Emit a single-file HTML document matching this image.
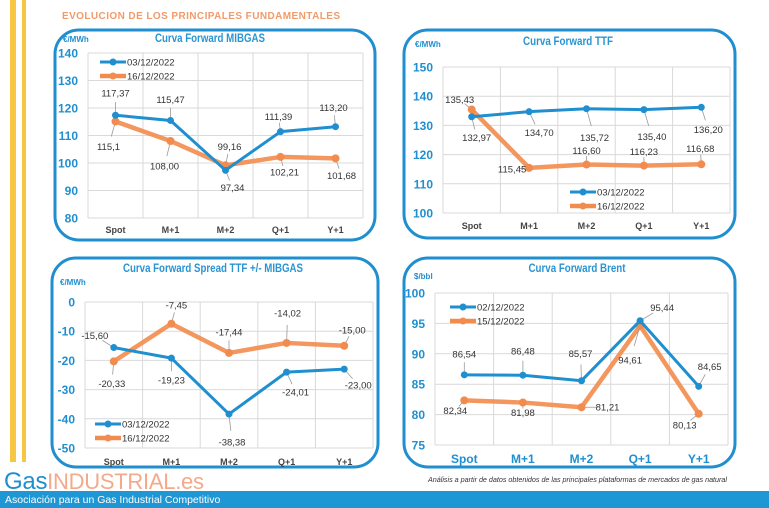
<!DOCTYPE html>
<html><head><meta charset="utf-8">
<style>
html,body{margin:0;padding:0;background:#fff;}
svg{display:block;font-family:"Liberation Sans",sans-serif;}
</style></head>
<body>
<svg id="root" width="769" height="508" viewBox="0 0 769 508" xmlns="http://www.w3.org/2000/svg">
  <rect x="10" y="0" width="6" height="462" fill="#f8c645"/>
  <rect x="22" y="0" width="4" height="462" fill="#f8c645"/>
  <text x="62" y="19" font-size="10" font-weight="bold" fill="#f29a6a" textLength="278">EVOLUCION DE LOS PRINCIPALES FUNDAMENTALES</text>
  <g id="charts"></g>
  <text x="4" y="489" font-size="24" fill="#1d8fd0" textLength="200"><tspan>Gas</tspan><tspan fill="#f4a98a" font-size="22">INDUSTRIAL.es</tspan></text>
  <text x="428" y="482" font-size="7.2" font-style="italic" fill="#333" textLength="299">Análisis a partir de datos obtenidos de las principales plataformas de mercados de gas natural</text>
  <rect x="0" y="491" width="769" height="17" fill="#1f97d4"/>
  <text x="5" y="503" font-size="10.5" fill="#fff">Asociación para un Gas Industrial Competitivo</text>
</svg>
<script>
const categories = ["Spot","M+1","M+2","Q+1","Y+1"];
const mibgasBlue = [117.37,115.47,97.34,111.39,113.20];
const mibgasOrange = [115.1,108.00,99.16,102.21,101.68];
const mibgasBlueLbl = ["117,37","115,47","97,34","111,39","113,20"];
const mibgasOrangeLbl = ["115,1","108,00","99,16","102,21","101,68"];
const mibgasTicks = [140,130,120,110,100,90,80];
const ttfBlue = [132.97,134.70,135.72,135.40,136.20];
const ttfOrange = [135.43,115.45,116.60,116.23,116.68];
const ttfBlueLbl = ["132,97","134,70","135,72","135,40","136,20"];
const ttfOrangeLbl = ["135,43","115,45","116,60","116,23","116,68"];
const ttfTicks = [150,140,130,120,110,100];
const spreadBlue = [-15.60,-19.23,-38.38,-24.01,-23.00];
const spreadOrange = [-20.33,-7.45,-17.44,-14.02,-15.00];
const spreadBlueLbl = ["-15,60","-19,23","-38,38","-24,01","-23,00"];
const spreadOrangeLbl = ["-20,33","-7,45","-17,44","-14,02","-15,00"];
const spreadTicks = [0,-10,-20,-30,-40,-50];
const brentBlue = [86.54,86.48,85.57,95.44,84.65];
const brentOrange = [82.34,81.98,81.21,94.61,80.13];
const brentBlueLbl = ["86,54","86,48","85,57","95,44","84,65"];
const brentOrangeLbl = ["82,34","81,98","81,21","94,61","80,13"];
const brentTicks = [100,95,90,85,80,75];

const NS="http://www.w3.org/2000/svg";
const BLUE="#1f8fd0", ORANGE="#f28c4e";
function mk(tag,attrs,parent){const e=document.createElementNS(NS,tag);for(const k in attrs)e.setAttribute(k,attrs[k]);parent.appendChild(e);return e;}

const charts=[
 {name:"mibgas",title:"Curva Forward MIBGAS",tw:110,unit:"€/MWh",box:[55,30,320,210],px:[88,363],py:[53,218],vmax:140,vmin:80,ticks:mibgasTicks,
  blue:mibgasBlue,orange:mibgasOrange,bl:mibgasBlueLbl,ol:mibgasOrangeLbl,
  bOff:[[0,-22],[0,-21],[7,17],[-2,-15],[-2,-19]],oOff:[[-7,25],[-6,25],[4,-19],[4,15],[6,17]],
  leg:["03/12/2022","16/12/2022"],legPos:[100,62],titleY:42,unitPos:[63,42],catY:229,catBlue:false,titleX:210},
 {name:"ttf",title:"Curva Forward TTF",tw:90,unit:"€/MWh",box:[404,30,331,208],px:[443,730],py:[67,213],vmax:150,vmin:100,ticks:ttfTicks,
  blue:ttfBlue,orange:ttfOrange,bl:ttfBlueLbl,ol:ttfOrangeLbl,
  bOff:[[5,21],[10,21],[8,29],[8,27],[7,22]],oOff:[[-12,-10],[-17,1],[0,-14],[0,-14],[-1,-16]],
  leg:["03/12/2022","16/12/2022"],legPos:[570,192],titleY:45,unitPos:[415,47],catY:225,catBlue:false,titleX:568},
 {name:"spread",title:"Curva Forward Spread TTF +/- MIBGAS",tw:180,unit:"€/MWh",box:[52,258,326,209],px:[85,373],py:[302,448],vmax:0,vmin:-50,ticks:spreadTicks,
  blue:spreadBlue,orange:spreadOrange,bl:spreadBlueLbl,ol:spreadOrangeLbl,
  bOff:[[-19,-12],[0,22],[3,28],[9,20],[14,16]],oOff:[[-2,22],[5,-19],[0,-21],[1,-30],[8,-16]],
  leg:["03/12/2022","16/12/2022"],legPos:[95,424],titleY:272,unitPos:[60,285],catY:461,catBlue:false,titleX:213},
 {name:"brent",title:"Curva Forward Brent",tw:97,unit:"$/bbl",box:[404,258,331,209],px:[435,728],py:[293,445],vmax:100,vmin:75,ticks:brentTicks,
  blue:brentBlue,orange:brentOrange,bl:brentBlueLbl,ol:brentOrangeLbl,
  bOff:[[0,-21],[0,-24],[-1,-27],[22,-13],[11,-20]],oOff:[[-9,10],[0,10],[26,0],[-10,34],[-14,11]],
  leg:["02/12/2022","15/12/2022"],legPos:[450,307],titleY:272,unitPos:[414,279],catY:459,catBlue:true,titleX:577}
];

const root=document.getElementById("charts");
charts.forEach(c=>{
  const g=mk("g",{},root);
  
  
  const fr=mk("rect",{x:c.box[0],y:c.box[1],width:c.box[2],height:c.box[3],rx:24,ry:24,fill:"#fff",stroke:"#1f8fd0","stroke-width":3},g);
  
  
  const t=mk("text",{x:c.titleX-c.tw/2,y:c.titleY,"font-size":12,"font-weight":"bold",fill:"#2a94d2",textLength:c.tw,lengthAdjust:"spacingAndGlyphs"},g);
  t.textContent=c.title;
  
  
  const u=mk("text",{x:c.unitPos[0],y:c.unitPos[1],"font-size":8,"font-weight":"bold",fill:"#1f8fd0"},g);
  u.textContent=c.unit;
  
  
  const yS=v=>c.py[0]+(c.vmax-v)/(c.vmax-c.vmin)*(c.py[1]-c.py[0]);
  const step=(c.px[1]-c.px[0])/categories.length;
  const xS=i=>c.px[0]+step*(i+0.5);
  c.ticks.forEach(tv=>{
    const y=yS(tv);
    const gl=mk("line",{x1:c.px[0],x2:c.px[1],y1:y,y2:y,stroke:"#d9d9d9","stroke-width":1},g);
    
    
    const tl=mk("text",{x:c.px[0]-10,y:y+4.5,"text-anchor":"end","font-size":12,"font-weight":"bold",fill:"#1f8fd0"},g);
    tl.textContent=tv;
    
    
  });
  for(let i=0;i<=categories.length;i++){
    const x=c.px[0]+step*i;
    const vl=mk("line",{x1:x,x2:x,y1:c.py[0],y2:c.py[1],stroke:"#d9d9d9","stroke-width":1},g);
    
    
  }
  categories.forEach((cat,i)=>{
    const cl=mk("text",{x:xS(i),y:c.catY+4,"text-anchor":"middle","font-size":c.catBlue?12:9,"font-weight":"bold",fill:c.catBlue?"#1f8fd0":"#444"},g);
    cl.textContent=cat;
    
    
  });
  [["orange",c.orange,c.ol,c.oOff,ORANGE,4.5],["blue",c.blue,c.bl,c.bOff,BLUE,3]].forEach(([sn,vals,lbls,offs,col,w])=>{
    const pts=vals.map((v,i)=>xS(i)+","+yS(v)).join(" ");
    const pl=mk("polyline",{points:pts,fill:"none",stroke:col,"stroke-width":w,"stroke-linejoin":"round",opacity:sn==="orange"?0.9:1},g);
    
    
    vals.forEach((v,i)=>{
      const x=xS(i),y=yS(v),o=offs[i];
      const ll=mk("line",{x1:x,y1:y,x2:x+o[0]*0.6,y2:y+o[1]*0.6,stroke:"#999","stroke-width":0.8},g);
      
      
      const p=mk("circle",{cx:x,cy:y,r:sn==="orange"?4:3.5,fill:col},g);
      
      
      const dl=mk("text",{x:x+o[0],y:y+o[1]+3.5,"text-anchor":"middle","font-size":9.5,fill:"#333"},g);
      dl.textContent=lbls[i];
      
      
    });
  });
  [[BLUE,3,c.leg[0]],[ORANGE,4.5,c.leg[1]]].forEach(([col,w,lab],k)=>{
    const ly=c.legPos[1]+k*14;
    const lg=mk("g",{},g);
    
    
    mk("line",{x1:c.legPos[0],x2:c.legPos[0]+26,y1:ly,y2:ly,stroke:col,"stroke-width":w},lg);
    mk("circle",{cx:c.legPos[0]+13,cy:ly,r:3.5,fill:col},lg);
    const lt=mk("text",{x:c.legPos[0]+27,y:ly+3.5,"font-size":9.5,fill:"#333"},lg);
    lt.textContent=lab;
  });
});
</script>
</body></html>
